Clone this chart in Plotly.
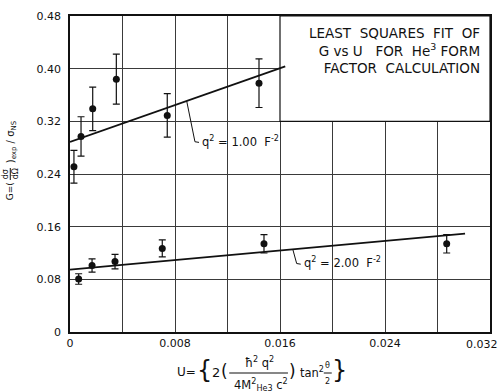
import plotly.graph_objects as go

# q^2 = 1.00 F^-2 measurements
u_q1 = [0.0003, 0.00084, 0.00173, 0.00353, 0.00741, 0.0144]
g_q1 = [0.251, 0.297, 0.339, 0.384, 0.329, 0.378]
e_q1 = [0.025, 0.030, 0.033, 0.038, 0.033, 0.037]

# q^2 = 2.00 F^-2 measurements
u_q2 = [0.00066, 0.00168, 0.00343, 0.00703, 0.01478, 0.0287]
g_q2 = [0.0805, 0.101, 0.107, 0.127, 0.134, 0.134]
e_q2 = [0.008, 0.010, 0.011, 0.013, 0.014, 0.014]

# least squares lines: G = intercept + slope * U
fit_q1 = dict(intercept=0.2886, slope=7.0, u_end=0.0164)
fit_q2 = dict(intercept=0.0948, slope=1.82, u_end=0.0301)

x_ticks = [0, 0.008, 0.016, 0.024, 0.032]
x_tick_text = ["0", "0.008", "0.016", "0.024", "0.032"]
y_ticks = [0, 0.08, 0.16, 0.24, 0.32, 0.40, 0.48]
y_tick_text = ["0", "0.08", "0.16", "0.24", "0.32", "0.40", "0.48"]

W, H = 502, 392
ML, MR, MT, MB = 70, 10, 16, 60
FONT = "DejaVu Sans"
INK = "#111111"


def px(x, y):
    """Pixel position in the page -> paper coordinates."""
    return (x - ML) / (W - ML - MR), (H - MB - y) / (H - MT - MB)


fig = go.Figure()

for u, g, e in [(u_q1, g_q1, e_q1), (u_q2, g_q2, e_q2)]:
    fig.add_trace(go.Scatter(
        x=u, y=g, mode="markers",
        marker=dict(color=INK, size=7),
        error_y=dict(type="data", array=e, visible=True, color=INK,
                     thickness=1.2, width=3.5),
        showlegend=False,
    ))

for f in (fit_q1, fit_q2):
    xs = [0, f["u_end"]]
    ys = [f["intercept"] + f["slope"] * x for x in xs]
    fig.add_trace(go.Scatter(x=xs, y=ys, mode="lines",
                             line=dict(color=INK, width=1.8),
                             showlegend=False, cliponaxis=False))

# title box in the upper right corner, covering the grid
fig.add_shape(type="rect", x0=0.016, x1=0.032, y0=0.32, y1=0.48,
              xref="x", yref="y", layer="between",
              fillcolor="white", line=dict(color=INK, width=1.2))

fig.add_annotation(
    text="LEAST  SQUARES  FIT  OF<br>G vs U   FOR  He<sup>3</sup> FORM<br>FACTOR  CALCULATION",
    xref="paper", yref="paper", x=px(484, 0)[0], y=px(0, 23)[1],
    xanchor="right", yanchor="top", align="right", showarrow=False,
    font=dict(family=FONT, size=13.5, color=INK))

# curve labels with leader lines
leaders = [
    ([0.00889, 0.00952, 0.00983], [0.351, 0.289, 0.288]),
    ([0.01697, 0.01727, 0.01758], [0.126, 0.104, 0.103]),
]
for lx, ly in leaders:
    fig.add_trace(go.Scatter(x=lx, y=ly, mode="lines",
                             line=dict(color=INK, width=1),
                             showlegend=False, hoverinfo="skip"))

fig.add_annotation(text="q<sup>2</sup> = 1.00  F<sup>-2</sup>", x=0.0099, y=0.289,
                   xanchor="left", yanchor="middle", showarrow=False,
                   font=dict(family=FONT, size=11.5, color=INK))
fig.add_annotation(text="q<sup>2</sup> = 2.00  F<sup>-2</sup>", x=0.0177, y=0.106,
                   xanchor="left", yanchor="middle", showarrow=False,
                   font=dict(family=FONT, size=11.5, color=INK))


def txt(s, x, y, size=11, angle=0):
    ax, ay = px(x, y)
    fig.add_annotation(text=s, xref="paper", yref="paper", x=ax, y=ay,
                       xanchor="center", yanchor="middle", showarrow=False,
                       textangle=angle,
                       font=dict(family=FONT, size=size, color=INK))


def rule(x0, y0, x1, y1, width=1.1):
    a0, b0 = px(x0, y0)
    a1, b1 = px(x1, y1)
    fig.add_shape(type="line", xref="paper", yref="paper",
                  x0=a0, y0=b0, x1=a1, y1=b1,
                  line=dict(color=INK, width=width))


# y axis title, written bottom to top: G = (dσ/dΩ)exp / σNS
txt("G=(", 10, 191, size=9, angle=-90)
txt("dσ", 5, 174, size=8, angle=-90)
txt("dΩ", 15, 174, size=8, angle=-90)
rule(10, 168, 10, 180, width=1)
txt(")<sub>exp</sub> / σ<sub>NS</sub>", 11, 142, size=10, angle=-90)

# x axis title: U = {2 (ħ²q² / 4M²He3 c²) tan² θ/2}
txt("U=", 187, 372, size=12)
txt("{", 205, 370, size=24)
txt("2", 217, 372, size=13)
txt("(", 225, 371, size=17)
txt("ħ<sup>2</sup> q<sup>2</sup>", 260, 362, size=11.5)
rule(230, 373, 289, 373)
txt("4M<sup>2</sup><sub>He3</sub> c<sup>2</sup>", 262, 385, size=11.5)
txt(")", 294, 371, size=17)
txt("tan<sup>2</sup>", 313, 372, size=11.5)
txt("θ", 329, 365, size=8)
rule(325, 373, 333, 373, width=1)
txt("2", 329, 381, size=8)
txt("}", 341, 370, size=24)

# last x tick label sits just inside the right page edge
txt(x_tick_text[-1], 484, 344, size=11)

grid = "#3a3a3a"
fig.update_xaxes(range=[0, 0.032], tickvals=x_ticks[:-1], ticktext=x_tick_text[:-1],
                 showgrid=True, gridcolor=grid, gridwidth=1,
                 minor=dict(dtick=0.004, tick0=0, showgrid=True, gridcolor=grid, gridwidth=1),
                 showline=True, linecolor=INK, linewidth=1.5, mirror=True,
                 zeroline=False, ticks="", ticklen=0, ticklabelstandoff=0,
                 tickfont=dict(family=FONT, size=11, color=INK))
fig.update_yaxes(range=[0, 0.48], tickvals=y_ticks, ticktext=y_tick_text,
                 showgrid=True, gridcolor=grid, gridwidth=1,
                 showline=True, linecolor=INK, linewidth=1.5, mirror=True,
                 zeroline=False, ticks="", ticklabelstandoff=5,
                 tickfont=dict(family=FONT, size=11, color=INK))

fig.update_layout(width=W, height=H, margin=dict(l=ML, r=MR, t=MT, b=MB),
                  plot_bgcolor="white", paper_bgcolor="white")

fig.write_html("out.html")
